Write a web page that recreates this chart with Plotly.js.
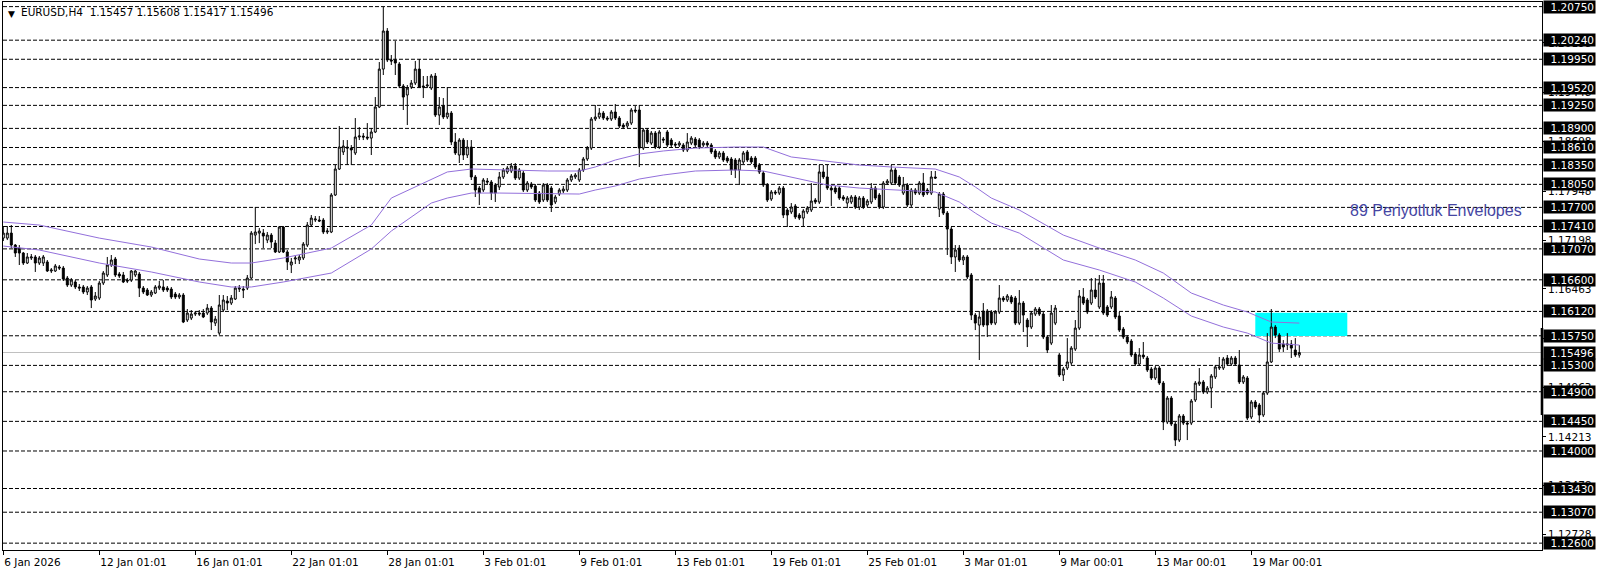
<!DOCTYPE html>
<html>
<head>
<meta charset="utf-8">
<script src="https://cdn.plot.ly/plotly-3.0.1.min.js"></script>
<style>
html,body{margin:0;padding:0;background:#ffffff;}
#chart{width:1606px;height:577px;}
</style>
</head>
<body>
<div id="chart"></div>
<script>
// ---------------- DATA ----------------
const symbolTitle = 'EURUSD,H4';
const lastQuote = ['1.15457', '1.15608', '1.15417', '1.15496'];

const opens = [
1.17234,1.17234,1.17310,1.17128,1.17082,1.17007,1.16855,1.16931,1.16947,1.16855,
1.16855,1.16871,1.16734,1.16734,1.16795,1.16779,1.16627,1.16521,1.16567,1.16491,
1.16491,1.16415,1.16491,1.16308,1.16323,1.16551,1.16673,1.16825,1.16916,1.16688,
1.16673,1.16597,1.16597,1.16673,1.16688,1.16475,1.16445,1.16369,1.16399,1.16475,
1.16491,1.16475,1.16460,1.16384,1.16339,1.16369,1.15989,1.16019,1.16080,1.16095,
1.16095,1.16095,1.16171,1.15943,1.15791,1.16141,1.16278,1.16247,1.16308,1.16460,
1.16460,1.16475,1.16627,1.17280,1.17310,1.17310,1.17204,1.17280,1.17158,1.17023,
1.17402,1.17023,1.16825,1.16916,1.16901,1.16931,1.17128,1.17432,1.17508,1.17508,
1.17508,1.17326,1.17326,1.17888,1.18283,1.18542,1.18617,1.18601,1.18526,1.18769,
1.18784,1.18769,1.18753,1.18845,1.19225,1.19801,1.20379,1.19939,1.19939,1.19878,
1.19544,1.19407,1.19528,1.19589,1.19801,1.19544,1.19544,1.19513,1.19696,1.19103,
1.19240,1.19073,1.19133,1.18693,1.18496,1.18723,1.18496,1.18617,1.18162,1.17994,
1.17964,1.18101,1.18086,1.18040,1.18010,1.18162,1.18238,1.18253,1.18329,1.18146,
1.18222,1.17964,1.18055,1.18025,1.17918,1.17812,1.18040,1.17994,1.17782,1.17903,
1.17949,1.17964,1.18116,1.18162,1.18116,1.18268,1.18435,1.18601,1.19042,1.19073,
1.19133,1.19057,1.19042,1.19149,1.19057,1.18951,1.18936,1.18981,1.19179,1.19179,
1.18601,1.18875,1.18677,1.18829,1.18617,1.18738,1.18845,1.18723,1.18662,1.18647,
1.18647,1.18572,1.18677,1.18738,1.18723,1.18647,1.18677,1.18647,1.18557,1.18466,
1.18526,1.18450,1.18435,1.18420,1.18268,1.18390,1.18542,1.18450,1.18450,1.18344,
1.18222,1.18040,1.17827,1.17934,1.17918,1.17994,1.17660,1.17630,1.17721,1.17584,
1.17538,1.17630,1.17660,1.17812,1.17782,1.18238,1.18162,1.17994,1.17994,1.17994,
1.17858,1.17766,1.17782,1.17858,1.17706,1.17842,1.17736,1.17782,1.17994,1.17888,
1.17706,1.18070,1.18070,1.18268,1.18162,1.17918,1.18040,1.17736,1.17964,1.17918,
1.18070,1.17964,1.17918,1.18162,1.17675,1.17903,1.17614,1.17371,1.16947,1.17082,
1.16901,1.16947,1.16673,1.16065,1.15913,1.16126,1.16126,1.16111,1.15943,1.16111,
1.16323,1.16293,1.16339,1.16323,1.15943,1.16247,1.15989,1.15883,1.16080,1.16156,
1.16080,1.15731,1.15639,1.15943,1.15458,1.15154,1.15260,1.15336,1.15548,1.15867,
1.16339,1.16293,1.16247,1.16445,1.16187,1.16551,1.16187,1.16187,1.16323,1.16050,
1.15852,1.15731,1.15670,1.15473,1.15321,1.15458,1.15412,1.15245,1.15108,1.15260,
1.15032,1.14440,1.14804,1.14409,1.14166,1.14531,1.14424,1.14424,1.14774,1.15017,
1.15048,1.14896,1.14956,1.15124,1.15260,1.15260,1.15412,1.15321,1.15412,1.15306,
1.15048,1.15108,1.14516,1.14744,1.14698,1.14546,1.14880,1.15352,1.15883,1.15761,
1.15624,1.15609,1.15624,1.15534,1.15457
];

const highs = [
1.17417,1.17417,1.17432,1.17143,1.17128,1.17023,1.17007,1.16992,1.16977,1.16962,
1.16977,1.16901,1.16779,1.16840,1.16825,1.16810,1.16658,1.16627,1.16597,1.16536,
1.16521,1.16506,1.16521,1.16415,1.16582,1.16734,1.16947,1.16977,1.16947,1.16719,
1.16719,1.16627,1.16749,1.16749,1.16719,1.16506,1.16475,1.16445,1.16521,1.16582,
1.16597,1.16506,1.16491,1.16415,1.16399,1.16399,1.16156,1.16141,1.16126,1.16141,
1.16156,1.16232,1.16202,1.16050,1.16369,1.16369,1.16354,1.16369,1.16506,1.16521,
1.16506,1.16673,1.17341,1.17706,1.17386,1.17371,1.17326,1.17310,1.17204,1.17417,
1.17417,1.17053,1.16931,1.16977,1.16977,1.17174,1.17478,1.17584,1.17569,1.17569,
1.17538,1.17386,1.17918,1.18344,1.18936,1.18723,1.18723,1.18647,1.19057,1.18920,
1.18829,1.18981,1.18905,1.19376,1.19908,1.20744,1.20424,1.20015,1.20227,1.19908,
1.19574,1.19559,1.19635,1.19924,1.19954,1.19696,1.19696,1.19726,1.19741,1.19376,
1.19361,1.19528,1.19164,1.18829,1.18753,1.18753,1.18723,1.18723,1.18192,1.18025,
1.18146,1.18146,1.18116,1.18070,1.18238,1.18298,1.18329,1.18374,1.18374,1.18298,
1.18253,1.18101,1.18086,1.18055,1.17949,1.18070,1.18070,1.18025,1.17888,1.17994,
1.18025,1.18146,1.18207,1.18222,1.18298,1.18466,1.18632,1.19073,1.19255,1.19209,
1.19164,1.19088,1.19179,1.19270,1.19088,1.18981,1.19012,1.19209,1.19240,1.19255,
1.18905,1.18905,1.18860,1.18860,1.18875,1.18769,1.18875,1.18753,1.18693,1.18708,
1.18677,1.18829,1.18784,1.18769,1.18753,1.18708,1.18708,1.18677,1.18586,1.18557,
1.18557,1.18481,1.18466,1.18450,1.18450,1.18557,1.18572,1.18481,1.18481,1.18374,
1.18253,1.18070,1.17964,1.17964,1.18025,1.18025,1.17690,1.17766,1.17751,1.17614,
1.17675,1.17721,1.18070,1.17842,1.18344,1.18344,1.18344,1.18025,1.18025,1.18025,
1.17888,1.17873,1.17888,1.17888,1.17873,1.17873,1.17827,1.18070,1.18025,1.17918,
1.18101,1.18131,1.18344,1.18298,1.18192,1.18162,1.18070,1.17994,1.17994,1.18101,
1.18222,1.17994,1.18253,1.18253,1.17934,1.17934,1.17645,1.17402,1.17128,1.17128,
1.16977,1.16977,1.16703,1.16095,1.16126,1.16247,1.16156,1.16141,1.16141,1.16521,
1.16354,1.16384,1.16369,1.16354,1.16445,1.16278,1.16019,1.16126,1.16187,1.16187,
1.16111,1.15761,1.16217,1.16217,1.15488,1.15276,1.15715,1.15594,1.15989,1.16445,
1.16475,1.16323,1.16627,1.16627,1.16673,1.16673,1.16217,1.16430,1.16354,1.16111,
1.15883,1.15761,1.15700,1.15504,1.15563,1.15655,1.15443,1.15276,1.15291,1.15291,
1.15063,1.14835,1.14835,1.14440,1.14561,1.14561,1.14455,1.14789,1.15063,1.15260,
1.15078,1.14987,1.15169,1.15306,1.15428,1.15428,1.15458,1.15443,1.15443,1.15534,
1.15154,1.15139,1.14774,1.14774,1.14728,1.14911,1.15791,1.16156,1.15913,1.15791,
1.15685,1.15791,1.15685,1.15715,1.15608
];

const lows = [
1.17189,1.17204,1.17082,1.16947,1.16825,1.16825,1.16840,1.16901,1.16719,1.16825,
1.16810,1.16719,1.16703,1.16719,1.16749,1.16582,1.16491,1.16491,1.16460,1.16430,
1.16384,1.16369,1.16171,1.16278,1.16293,1.16521,1.16643,1.16795,1.16643,1.16627,
1.16551,1.16551,1.16567,1.16643,1.16339,1.16384,1.16354,1.16339,1.16384,1.16445,
1.16415,1.16415,1.16308,1.16308,1.16308,1.15943,1.15959,1.15989,1.16050,1.16050,
1.16019,1.16065,1.15837,1.15898,1.15761,1.16111,1.16141,1.16217,1.16293,1.16415,
1.16323,1.16445,1.16612,1.17143,1.17158,1.17082,1.17158,1.17082,1.17007,1.17007,
1.17007,1.16749,1.16703,1.16840,1.16840,1.16901,1.17098,1.17402,1.17478,1.17478,
1.17295,1.17295,1.17310,1.17873,1.18268,1.18496,1.18344,1.18344,1.18496,1.18723,
1.18723,1.18723,1.18496,1.18829,1.19209,1.19711,1.19908,1.19863,1.19711,1.19513,
1.19179,1.18951,1.19498,1.19559,1.19513,1.19361,1.19513,1.19483,1.19073,1.18951,
1.19042,1.19042,1.18647,1.18496,1.18374,1.18420,1.18450,1.18116,1.17858,1.17736,
1.17934,1.18040,1.17812,1.17782,1.17964,1.18131,1.18207,1.18222,1.18116,1.18116,
1.17934,1.17934,1.17979,1.17782,1.17751,1.17782,1.17782,1.17630,1.17751,1.17873,
1.17918,1.17934,1.18086,1.18131,1.18086,1.18238,1.18405,1.18572,1.19012,1.19042,
1.19027,1.19012,1.19012,1.19027,1.18905,1.18890,1.18905,1.18951,1.19133,1.18314,
1.18572,1.18662,1.18647,1.18586,1.18586,1.18677,1.18617,1.18617,1.18617,1.18617,
1.18542,1.18542,1.18647,1.18617,1.18586,1.18617,1.18617,1.18511,1.18435,1.18435,
1.18390,1.18374,1.18192,1.18146,1.18040,1.18359,1.18390,1.18359,1.18283,1.18207,
1.18010,1.17782,1.17797,1.17888,1.17888,1.17538,1.17402,1.17599,1.17523,1.17508,
1.17402,1.17599,1.17630,1.17751,1.17751,1.18131,1.17964,1.17721,1.17903,1.17812,
1.17797,1.17690,1.17751,1.17675,1.17660,1.17675,1.17706,1.17751,1.17812,1.17675,
1.17675,1.18040,1.18040,1.18040,1.18010,1.17888,1.17706,1.17706,1.17888,1.17888,
1.17858,1.17888,1.17888,1.18131,1.17554,1.17584,1.16977,1.16840,1.16719,1.16871,
1.16825,1.16612,1.15989,1.15837,1.15382,1.15883,1.15731,1.15913,1.15913,1.16080,
1.16263,1.16263,1.16232,1.15913,1.15913,1.15807,1.15579,1.15852,1.16050,1.16050,
1.15700,1.15488,1.15609,1.15913,1.15124,1.15063,1.15230,1.15306,1.15519,1.15837,
1.16217,1.16080,1.16217,1.16308,1.16156,1.16065,1.16035,1.16156,1.16004,1.15807,
1.15700,1.15624,1.15428,1.15291,1.15291,1.15397,1.15200,1.15078,1.15078,1.15002,
1.14318,1.14409,1.14379,1.14075,1.14136,1.14394,1.14166,1.14394,1.14744,1.14987,
1.14865,1.14865,1.14652,1.15093,1.15230,1.15230,1.15291,1.15291,1.15291,1.15017,
1.15017,1.14470,1.14485,1.14637,1.14424,1.14516,1.14850,1.15336,1.15715,1.15504,
1.15504,1.15534,1.15412,1.15428,1.15417
];

const closes = [
1.17310,1.17310,1.17128,1.17007,1.17007,1.16855,1.16947,1.16947,1.16855,1.16931,
1.16947,1.16734,1.16749,1.16810,1.16779,1.16612,1.16521,1.16597,1.16491,1.16475,
1.16415,1.16475,1.16293,1.16354,1.16551,1.16703,1.16825,1.16901,1.16673,1.16658,
1.16567,1.16582,1.16734,1.16734,1.16475,1.16415,1.16369,1.16415,1.16491,1.16506,
1.16445,1.16445,1.16339,1.16339,1.16369,1.15959,1.16095,1.16080,1.16095,1.16080,
1.16035,1.16171,1.15959,1.16004,1.16217,1.16293,1.16247,1.16323,1.16475,1.16475,
1.16445,1.16627,1.17310,1.17326,1.17341,1.17265,1.17280,1.17174,1.17023,1.17402,
1.17023,1.16871,1.16871,1.16931,1.16947,1.17143,1.17432,1.17538,1.17523,1.17493,
1.17326,1.17341,1.17888,1.18283,1.18617,1.18632,1.18601,1.18572,1.18769,1.18784,
1.18769,1.18753,1.18845,1.19225,1.19801,1.20379,1.19939,1.19924,1.19893,1.19544,
1.19376,1.19513,1.19589,1.19801,1.19528,1.19528,1.19559,1.19696,1.19103,1.19225,
1.19073,1.19133,1.18693,1.18526,1.18723,1.18496,1.18617,1.18162,1.17964,1.17918,
1.18116,1.18086,1.17918,1.17918,1.18162,1.18268,1.18298,1.18329,1.18146,1.18268,
1.17964,1.18070,1.18010,1.17812,1.17782,1.18040,1.17812,1.17736,1.17858,1.17964,
1.17979,1.18116,1.18177,1.18192,1.18268,1.18435,1.18601,1.19042,1.19073,1.19133,
1.19057,1.19042,1.19149,1.19057,1.18936,1.18920,1.18981,1.19179,1.19164,1.18601,
1.18875,1.18693,1.18829,1.18617,1.18845,1.18723,1.18647,1.18647,1.18647,1.18677,
1.18572,1.18693,1.18753,1.18647,1.18617,1.18677,1.18647,1.18542,1.18466,1.18526,
1.18420,1.18405,1.18268,1.18268,1.18420,1.18526,1.18420,1.18390,1.18314,1.18238,
1.18040,1.17812,1.17934,1.17918,1.17994,1.17584,1.17584,1.17706,1.17554,1.17538,
1.17645,1.17690,1.17797,1.17782,1.18238,1.18162,1.17994,1.17964,1.17934,1.17842,
1.17827,1.17842,1.17858,1.17706,1.17842,1.17706,1.17797,1.17994,1.17842,1.17706,
1.18070,1.18101,1.18268,1.18070,1.18040,1.18040,1.17736,1.17964,1.17918,1.18070,
1.17888,1.17918,1.18162,1.18146,1.17903,1.17614,1.17371,1.16947,1.17053,1.16901,
1.16947,1.16643,1.16065,1.15943,1.16035,1.15913,1.15913,1.15943,1.16111,1.16323,
1.16293,1.16354,1.16263,1.15943,1.16247,1.16065,1.15883,1.16095,1.16156,1.16080,
1.15731,1.15534,1.16095,1.16171,1.15154,1.15245,1.15352,1.15563,1.15867,1.16354,
1.16247,1.16111,1.16445,1.16339,1.16551,1.16095,1.16065,1.16339,1.16035,1.15837,
1.15731,1.15655,1.15458,1.15321,1.15458,1.15428,1.15230,1.15108,1.15260,1.15032,
1.14440,1.14804,1.14409,1.14166,1.14531,1.14424,1.14409,1.14759,1.15032,1.15048,
1.14896,1.14956,1.15139,1.15276,1.15276,1.15397,1.15321,1.15412,1.15321,1.15048,
1.15124,1.14500,1.14744,1.14668,1.14546,1.14880,1.15352,1.15883,1.15761,1.15548,
1.15579,1.15624,1.15563,1.15458,1.15496
];

// 89-period envelopes (bar index, upper band, lower band)
const envIndex = [0,9,24,37,49,57,62,70,82,92,97,107,111,117,124,136,144,148,153,159,165,173,183,190,197,206,214,222,233,239,243,247,254,265,274,283,290,297,305,311,317,324];
const envUpper = [1.17478,1.17432,1.17234,1.17098,1.16916,1.16855,1.16855,1.16931,1.17082,1.17432,1.17842,1.18116,1.18238,1.18283,1.18268,1.18253,1.18253,1.18314,1.18420,1.18511,1.18557,1.18601,1.18617,1.18617,1.18466,1.18405,1.18344,1.18314,1.18283,1.18162,1.18010,1.17842,1.17660,1.17280,1.17082,1.16901,1.16703,1.16399,1.16217,1.16111,1.15959,1.15943];
const envLower = [1.17113,1.17053,1.16855,1.16719,1.16567,1.16491,1.16491,1.16567,1.16703,1.17068,1.17341,1.17766,1.17842,1.17918,1.17918,1.17903,1.17903,1.17964,1.18025,1.18131,1.18192,1.18253,1.18268,1.18253,1.18162,1.18040,1.17994,1.17964,1.17934,1.17782,1.17614,1.17462,1.17310,1.16901,1.16749,1.16567,1.16323,1.16050,1.15883,1.15791,1.15639,1.15609];

// horizontal levels drawn on the chart
const levelPrices = [1.20750,1.20240,1.19950,1.19520,1.19250,1.18900,1.18610,1.18350,1.18050,1.17700,1.17410,1.17070,1.16600,1.16120,1.15750,1.15300,1.14900,1.14450,1.14000,1.13430,1.13070,1.12600];
const currentPrice = 1.15496;

// price-scale ticks
const gridTickPrices = [1.20198,1.19448,1.18698,1.17948,1.17198,1.16463,1.15713,1.14963,1.14213,1.13478,1.12728];

// time-scale ticks
const dateTickIndex = [0,24,48,72,96,120,144,168,192,216,240,264,288,312];
const dateTickLabels = ['6 Jan 2026','12 Jan 01:01','16 Jan 01:01','22 Jan 01:01','28 Jan 01:01','3 Feb 01:01','9 Feb 01:01','13 Feb 01:01','19 Feb 01:01','25 Feb 01:01','3 Mar 01:01','9 Mar 00:01','13 Mar 00:01','19 Mar 00:01'];

// cyan zone
const zoneIndex = [313, 336];
const zonePrices = [1.15746, 1.16100];

const envelopeLabel = '89 Periyotluk Envelopes';
const envelopeLabelAt = [336.2, 1.17660];

// ---------------- CHART ----------------
const barIndex = opens.map((_, i) => i);
const FONT = 'DejaVu Sans, Verdana, sans-serif';

const traces = [
  {
    type: 'candlestick',
    x: barIndex, open: opens, high: highs, low: lows, close: closes,
    increasing: {line: {color: '#000000', width: 1}, fillcolor: '#ffffff'},
    decreasing: {line: {color: '#000000', width: 1}, fillcolor: '#000000'},
    whiskerwidth: 0,
    hoverinfo: 'skip',
    showlegend: false
  },
  {
    type: 'scatter', mode: 'lines', x: envIndex, y: envUpper,
    line: {color: '#9370DB', width: 1}, hoverinfo: 'skip', showlegend: false
  },
  {
    type: 'scatter', mode: 'lines', x: envIndex, y: envLower,
    line: {color: '#9370DB', width: 1}, hoverinfo: 'skip', showlegend: false
  }
];

const shapes = [];
levelPrices.forEach(p => {
  shapes.push({type: 'line', xref: 'paper', x0: 0, x1: 1, yref: 'y', y0: p, y1: p,
    line: {color: '#000000', width: 1, dash: '4px,2px'}, layer: 'below'});
});
shapes.push({type: 'line', xref: 'paper', x0: 0, x1: 1, yref: 'y', y0: currentPrice, y1: currentPrice,
  line: {color: '#C0C0C0', width: 1}, layer: 'below'});
shapes.push({type: 'rect', xref: 'x', x0: zoneIndex[0], x1: zoneIndex[1], yref: 'y', y0: zonePrices[0], y1: zonePrices[1],
  fillcolor: '#00FFFF', line: {width: 0}, layer: 'below'});
shapes.push({type: 'rect', xref: 'paper', x0: 0.99916, x1: 1.00084, yref: 'y', y0: 1.14546, y1: 1.15868,
  fillcolor: '#000000', line: {width: 0}, layer: 'above'});

const annotations = [];
levelPrices.concat([currentPrice]).forEach(p => {
  annotations.push({xref: 'paper', x: 1, xanchor: 'left', xshift: 1, yref: 'y', y: p, yanchor: 'middle',
    text: p.toFixed(5), showarrow: false, bgcolor: '#000000',
    font: {family: FONT, size: 10.5, color: '#ffffff'},
    width: 49, height: 10, borderpad: 1, align: 'right'});
});
annotations.push({xref: 'paper', x: 0.0055, xanchor: 'center', yref: 'paper', y: 0.979, yanchor: 'middle',
  text: '▼', showarrow: false, font: {family: FONT, size: 9, color: '#000000'}});
annotations.push({xref: 'x', x: envelopeLabelAt[0], xanchor: 'left', yref: 'y', y: envelopeLabelAt[1], yanchor: 'middle',
  text: envelopeLabel, showarrow: false, font: {family: 'Liberation Sans, Arial, sans-serif', size: 16, color: '#4646A3'}});

const layout = {
  width: 1606, height: 577,
  margin: {l: 3, r: 64, t: 2, b: 27, pad: 0},
  paper_bgcolor: '#ffffff', plot_bgcolor: '#ffffff',
  showlegend: false,
  font: {family: FONT, size: 10.5, color: '#000000'},
  title: {
    text: symbolTitle + '  ' + lastQuote.join(' '),
    xref: 'container', x: 21 / 1606, xanchor: 'left',
    yref: 'container', y: 1 - 12 / 577, yanchor: 'middle',
    font: {family: FONT, size: 10.5, color: '#000000'}
  },
  boxgap: 0.3, boxgroupgap: 0.3,
  xaxis: {
    type: 'linear', range: [-0.075, 384.675],
    showgrid: false, zeroline: false,
    showline: true, mirror: true, linecolor: '#000000', linewidth: 1,
    ticks: 'outside', ticklen: 4, tickcolor: '#000000', tickwidth: 1,
    tickvals: dateTickIndex, ticktext: dateTickLabels,
    ticklabelposition: 'outside right', ticklabelstandoff: 2,
    tickfont: {family: FONT, size: 10.5, color: '#000000'},
    rangeslider: {visible: false}, fixedrange: true
  },
  yaxis: {
    side: 'right', range: [1.12496, 1.20820],
    showgrid: false, zeroline: false,
    showline: true, mirror: true, linecolor: '#000000', linewidth: 1,
    ticks: 'outside', ticklen: 3, tickcolor: '#000000',
    tickvals: gridTickPrices, ticktext: gridTickPrices.map(v => v.toFixed(5)),
    tickfont: {family: FONT, size: 10.5, color: '#000000'},
    fixedrange: true
  },
  shapes: shapes,
  annotations: annotations
};

Plotly.newPlot('chart', traces, layout, {staticPlot: true, displayModeBar: false});
</script>
</body>
</html>
